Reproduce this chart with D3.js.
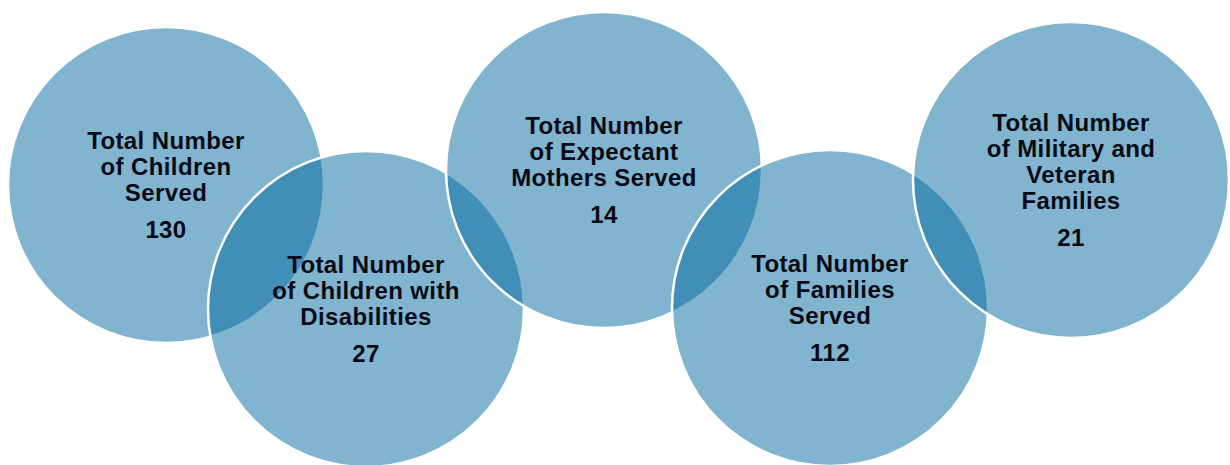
<!DOCTYPE html>
<html lang="en">
  <head>
    <meta charset="utf-8" />
    <title>Program Totals</title>
    <script src="https://d3js.org/d3.v7.min.js"></script>
    <style type="text/css">
      body {
        margin: 0;
        background: #ffffff;
      }
      .label {
        font-family: "Liberation Sans", Arial, sans-serif;
        font-weight: bold;
        font-size: 24px;
        letter-spacing: 0.4px;
        fill: #0a0a14;
      }
    </style>
  </head>
  <body>
    <script type="text/javascript">
      //Data
      var categories = ["children", "disabilities", "mothers", "families", "military"];
      var labels = [
        ["Total Number", "of Children", "Served"],
        ["Total Number", "of Children with", "Disabilities"],
        ["Total Number", "of Expectant", "Mothers Served"],
        ["Total Number", "of Families", "Served"],
        ["Total Number", "of Military and", "Veteran", "Families"]
      ];
      var values = [130, 27, 14, 112, 21];

      //Width and height
      var w = 1230;
      var h = 465;
      var r = 158;

      var lineGap = 26;   // between label lines
      var numGap = 37;    // last label line to number
      var capH = 17;

      // layout of the bubbles across the page
      var xScale = d3
        .scaleOrdinal()
        .domain(categories)
        .range([166, 366, 604, 830, 1071]);

      var yScale = d3
        .scaleOrdinal()
        .domain(categories)
        .range([185, 309, 170, 308, 180]);

      var svg = d3
        .select("body")
        .append("svg")
        .attr("width", w)
        .attr("height", h);

      var items = categories.map(function (c, i) {
        return { key: c, lines: labels[i], value: values[i] };
      });

      //Create circles
      svg
        .selectAll("circle")
        .data(items)
        .enter()
        .append("circle")
        .attr("cx", function (d) {
          return xScale(d.key);
        })
        .attr("cy", function (d) {
          return yScale(d.key);
        })
        .attr("r", r)
        .attr("fill", "#01699f")
        .attr("fill-opacity", 0.5)
        .attr("stroke", "#ffffff")
        .attr("stroke-width", 2.5);

      //Labels
      var groups = svg
        .selectAll("g.bubble")
        .data(items)
        .enter()
        .append("g")
        .attr("class", "bubble");

      groups.each(function (d) {
        var g = d3.select(this);
        var n = d.lines.length;
        var blockH = capH + lineGap * (n - 1) + numGap;
        var y0 = yScale(d.key) - blockH / 2 + capH;
        var cx = xScale(d.key);

        g.selectAll("text.line")
          .data(d.lines)
          .enter()
          .append("text")
          .attr("class", "label line")
          .attr("text-anchor", "middle")
          .attr("x", cx)
          .attr("y", function (t, j) {
            return y0 + j * lineGap;
          })
          .text(function (t) {
            return t;
          });

        g.append("text")
          .attr("class", "label")
          .attr("text-anchor", "middle")
          .attr("x", cx)
          .attr("y", y0 + (n - 1) * lineGap + numGap)
          .text(d.value);
      });
    </script>
  </body>
</html>
